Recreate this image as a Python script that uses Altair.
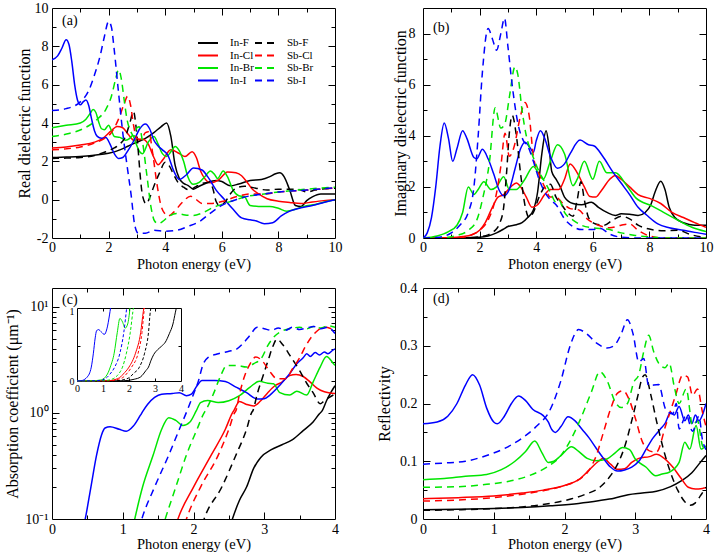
import altair as alt
import pandas as pd

FONT = "Liberation Serif"
SERIES = ["In-F", "In-Cl", "In-Br", "In-I", "Sb-F", "Sb-Cl", "Sb-Br", "Sb-I"]
COLORS = ["#000000", "#ff0000", "#00e600", "#0000ff", "#000000", "#ff0000", "#00e600", "#0000ff"]
DASH_MAIN = [[]] * 4 + [[7, 5]] * 4
DASH_INSET = [[]] * 4 + [[3, 2]] * 4

# ---------------- (a) real dielectric function ----------------
A_IN_F = [(0, 2.2), (0.5, 2.22), (1, 2.25), (1.5, 2.32), (2, 2.42), (2.4, 2.6), (2.7, 2.8), (3.0, 3.0), (3.3, 3.2),
          (3.6, 3.5), (3.85, 3.8), (4.05, 4.0), (4.2, 3.3), (4.35, 1.8), (4.5, 1.1), (4.65, 0.85), (4.8, 0.75),
          (5.0, 0.55), (5.2, 0.7), (5.5, 0.9), (5.8, 1.0), (6.0, 0.95), (6.3, 0.72), (6.6, 0.82), (7.0, 1.0),
          (7.4, 1.05), (7.7, 1.2), (7.9, 1.35), (8.05, 1.4), (8.2, 1.2), (8.4, 0.5), (8.6, -0.3), (8.8, -0.35),
          (9.0, -0.05), (9.2, 0.15), (9.5, 0.3), (10, 0.3)]
A_IN_CL = [(0, 2.7), (0.5, 2.75), (1, 2.85), (1.5, 3.0), (1.8, 3.2), (2.1, 3.6), (2.3, 3.82), (2.5, 3.75), (2.7, 3.4),
           (2.9, 3.1), (3.2, 3.15), (3.4, 2.9), (3.6, 2.2), (3.75, 1.82), (3.9, 2.05), (4.2, 2.6), (4.5, 2.4),
           (4.7, 2.25), (4.95, 2.5), (5.1, 2.2), (5.25, 1.5), (5.4, 1.1), (5.6, 0.88), (5.9, 1.05), (6.2, 1.45),
           (6.5, 1.4), (6.7, 1.25), (6.9, 0.9), (7.05, 0.6), (7.3, 0.3), (7.6, 0.05), (8.0, -0.08), (8.4, -0.15),
           (8.8, -0.2), (9.2, -0.12), (9.6, -0.05), (10, 0.0)]
A_IN_BR = [(0, 3.75), (0.5, 3.88), (1.0, 4.0), (1.2, 4.2), (1.35, 4.5), (1.45, 4.7), (1.55, 4.55), (1.65, 4.05),
           (1.75, 3.7), (1.85, 3.65), (2.0, 3.88), (2.1, 3.6), (2.2, 3.3), (2.4, 3.25), (2.6, 3.1), (2.75, 3.2),
           (2.85, 3.35), (2.95, 3.0), (3.1, 2.5), (3.2, 2.4), (3.4, 3.0), (3.6, 3.3), (3.75, 2.9), (3.9, 2.4),
           (4.05, 2.25), (4.2, 2.5), (4.35, 2.78), (4.5, 2.55), (4.65, 2.0), (4.8, 1.2), (5.0, 0.8), (5.2, 0.9),
           (5.4, 1.2), (5.6, 1.5), (5.75, 1.3), (5.85, 1.1), (6.05, 1.5), (6.2, 1.2), (6.4, 0.5), (6.6, 0.2),
           (6.8, 0.15), (7.0, -0.3), (7.3, -0.35), (7.7, -0.35), (8.0, -0.45), (8.3, -0.6), (8.6, -0.5),
           (8.9, -0.35), (9.3, -0.25), (9.7, -0.1), (10, 0.0)]
A_IN_I = [(0, 7.3), (0.2, 7.5), (0.35, 7.9), (0.5, 8.35), (0.6, 8.1), (0.7, 7.2), (0.8, 6.0), (0.9, 5.2), (1.0, 4.95),
          (1.1, 5.1), (1.2, 5.2), (1.3, 4.9), (1.4, 4.2), (1.5, 3.6), (1.6, 3.3), (1.75, 3.2), (1.9, 3.25),
          (2.05, 2.9), (2.2, 2.4), (2.35, 2.15), (2.5, 2.2), (2.7, 2.6), (2.9, 3.1), (3.1, 3.7), (3.3, 3.95),
          (3.45, 3.7), (3.6, 3.1), (3.75, 2.8), (3.9, 2.6), (4.1, 2.3), (4.3, 1.5), (4.5, 1.05), (4.75, 1.3),
          (5.0, 1.65), (5.3, 1.55), (5.5, 1.2), (5.8, 0.5), (6.1, 0.0), (6.4, -0.5), (6.7, -0.95), (7.0, -1.05),
          (7.2, -1.1), (7.5, -1.25), (7.8, -1.2), (8.1, -0.85), (8.4, -0.6), (8.8, -0.42), (9.2, -0.3),
          (9.6, -0.15), (10, 0.0)]
A_SB_F = [(0, 2.15), (0.5, 2.17), (1.0, 2.2), (1.5, 2.3), (1.9, 2.5), (2.2, 2.7), (2.4, 2.9), (2.6, 3.3), (2.75, 4.0),
          (2.88, 4.6), (2.97, 3.8), (3.05, 2.5), (3.12, 1.2), (3.2, 0.2), (3.33, -0.22), (3.45, 0.1), (3.6, 0.7),
          (3.8, 1.4), (4.0, 1.95), (4.15, 1.75), (4.3, 1.3), (4.45, 0.9), (4.65, 0.65), (4.85, 0.5), (5.05, 0.65),
          (5.3, 0.85), (5.55, 0.9), (5.68, 0.6), (5.8, -0.1), (5.9, -0.28), (6.1, -0.15), (6.3, 0.3), (6.5, 0.6),
          (6.8, 0.7), (7.2, 0.6), (7.6, 0.5), (8.0, 0.55), (8.5, 0.55), (8.8, 0.5), (9.0, 0.4), (9.3, 0.5),
          (10, 0.6)]
A_SB_CL = [(0, 2.6), (0.5, 2.65), (1.0, 2.75), (1.5, 2.95), (1.8, 3.15), (2.1, 3.5), (2.35, 4.2), (2.55, 5.0),
           (2.67, 5.4), (2.78, 4.9), (2.88, 3.9), (3.0, 3.2), (3.15, 3.15), (3.3, 3.5), (3.42, 3.55), (3.55, 2.5),
           (3.7, 0.9), (3.85, -0.3), (4.0, -0.75), (4.1, -0.85), (4.3, -0.65), (4.6, -0.15), (4.9, 0.18),
           (5.1, 0.0), (5.3, -0.2), (5.6, -0.2), (6.0, -0.1), (6.5, 0.15), (7.0, 0.3), (7.5, 0.3), (8.0, 0.4),
           (9.0, 0.5), (10, 0.6)]
A_SB_BR = [(0, 3.3), (0.6, 3.45), (1.1, 3.7), (1.6, 4.2), (1.9, 4.7), (2.1, 5.4), (2.25, 6.3), (2.35, 6.78),
           (2.45, 6.3), (2.55, 5.2), (2.65, 4.2), (2.8, 3.5), (2.9, 3.3), (3.0, 3.75), (3.08, 3.8), (3.2, 3.0),
           (3.35, 1.3), (3.5, -0.4), (3.62, -1.1), (3.75, -1.25), (3.9, -1.15), (4.1, -0.9), (4.4, -0.72),
           (4.7, -0.8), (5.0, -0.82), (5.3, -0.7), (5.7, -0.4), (6.0, -0.25), (6.5, 0.0), (7.0, 0.2), (7.5, 0.3),
           (8.0, 0.4), (9.0, 0.55), (10, 0.65)]
A_SB_I = [(0, 4.65), (0.5, 4.75), (1.0, 5.1), (1.3, 5.7), (1.5, 6.5), (1.7, 7.5), (1.85, 8.5), (2.0, 9.3), (2.1, 9.0),
          (2.2, 7.8), (2.35, 5.6), (2.5, 3.5), (2.65, 1.8), (2.8, 0.2), (2.92, -1.3), (3.05, -1.75), (3.3, -1.75),
          (3.6, -1.6), (4.0, -1.65), (4.4, -1.6), (4.8, -1.4), (5.2, -1.15), (5.6, -0.7), (6.0, -0.3), (6.5, 0.0),
          (7.0, 0.2), (7.5, 0.3), (8.0, 0.4), (9.0, 0.5), (10, 0.62)]

# ---------------- (b) imaginary dielectric function ----------------
B_IN_F = [(0, 0), (1, 0.0), (2.0, 0.03), (2.3, 0.08), (2.6, 0.2), (2.85, 0.35), (3.0, 0.45), (3.3, 0.52), (3.5, 0.6),
          (3.7, 0.8), (3.9, 1.1), (4.05, 1.8), (4.2, 3.3), (4.35, 4.2), (4.45, 3.6), (4.55, 2.6), (4.7, 2.3),
          (4.85, 2.0), (5.0, 1.6), (5.3, 1.35), (5.6, 1.3), (5.95, 1.4), (6.2, 1.2), (6.5, 1.0), (6.8, 0.88),
          (7.0, 0.95), (7.3, 0.93), (7.6, 0.88), (7.85, 1.0), (8.05, 1.3), (8.2, 1.8), (8.4, 2.22), (8.55, 1.9),
          (8.7, 1.2), (8.9, 0.8), (9.2, 0.6), (9.6, 0.5), (10, 0.5)]
B_IN_CL = [(0, 0), (1.0, 0.02), (1.4, 0.06), (1.7, 0.12), (2.0, 0.3), (2.2, 0.6), (2.45, 1.2), (2.65, 1.6), (2.85, 1.7),
           (3.1, 2.0), (3.3, 2.15), (3.45, 2.0), (3.65, 1.6), (3.85, 1.2), (4.05, 1.3), (4.3, 1.7), (4.5, 1.9),
           (4.8, 1.9), (5.0, 2.3), (5.2, 2.9), (5.45, 2.55), (5.7, 2.0), (5.9, 1.62), (6.1, 1.6), (6.3, 1.85),
           (6.6, 2.3), (6.8, 2.45), (7.0, 2.3), (7.3, 2.0), (7.6, 1.7), (8.0, 1.55), (8.4, 1.35), (8.8, 1.0),
           (9.2, 0.8), (9.6, 0.6), (10, 0.42)]
B_IN_BR = [(0, 0), (0.5, 0.08), (0.9, 0.25), (1.2, 0.5), (1.4, 1.0), (1.6, 2.0), (1.8, 1.7), (1.95, 1.9), (2.15, 2.2),
           (2.4, 1.9), (2.6, 2.0), (2.85, 2.4), (3.05, 1.9), (3.3, 1.9), (3.6, 2.3), (3.9, 2.8), (4.1, 2.5),
           (4.25, 2.3), (4.5, 3.0), (4.75, 3.65), (5.0, 3.3), (5.3, 2.05), (5.45, 2.3), (5.7, 3.0), (6.0, 2.3),
           (6.23, 3.0), (6.5, 2.55), (6.8, 2.55), (7.2, 2.05), (7.52, 1.57), (8.1, 1.25), (8.5, 1.0), (9.0, 0.7),
           (9.5, 0.42), (10, 0.25)]
B_IN_I = [(0, 0), (0.15, 0.2), (0.3, 0.8), (0.45, 2.0), (0.6, 3.6), (0.75, 4.5), (0.9, 3.9), (1.05, 3.0), (1.2, 3.5),
          (1.4, 4.2), (1.55, 3.9), (1.8, 3.15), (1.9, 3.1), (2.1, 3.47), (2.3, 3.1), (2.5, 2.5), (2.7, 1.85),
          (2.85, 1.65), (3.05, 1.9), (3.25, 2.7), (3.45, 3.5), (3.6, 3.75), (3.8, 3.5), (3.9, 3.35), (4.0, 3.8),
          (4.15, 4.2), (4.3, 3.9), (4.5, 3.2), (4.75, 2.73), (5.0, 2.9), (5.2, 3.3), (5.55, 3.83), (5.85, 3.65),
          (6.05, 3.6), (6.35, 3.2), (6.7, 2.6), (7.0, 2.15), (7.3, 1.7), (7.6, 1.2), (7.9, 0.9), (8.3, 0.55),
          (8.7, 0.4), (9.2, 0.3), (9.6, 0.22), (10, 0.15)]
B_SB_F = [(0, 0), (1.5, 0.0), (2.0, 0.05), (2.3, 0.12), (2.5, 0.25), (2.7, 0.55), (2.85, 1.2), (2.95, 2.5), (3.05, 4.1),
          (3.15, 4.8), (3.3, 4.0), (3.45, 2.5), (3.6, 1.3), (3.75, 0.8), (3.9, 1.0), (4.1, 1.6), (4.3, 2.0),
          (4.5, 2.1), (4.7, 1.6), (4.9, 1.3), (5.1, 1.0), (5.3, 0.85), (5.45, 1.5), (5.58, 2.2), (5.7, 1.5),
          (5.85, 0.8), (6.1, 0.55), (6.4, 0.5), (6.7, 0.7), (7.0, 0.85), (7.3, 0.75), (7.6, 0.5), (8.0, 0.35),
          (8.5, 0.28), (9.0, 0.3), (9.5, 0.12), (10, 0.02)]
B_SB_CL = [(0, 0), (1.2, 0.0), (1.6, 0.08), (2.0, 0.3), (2.3, 0.7), (2.55, 1.5), (2.75, 2.8), (2.9, 4.1), (3.05, 3.2),
           (3.2, 3.5), (3.45, 4.8), (3.6, 5.3), (3.75, 4.8), (3.9, 3.2), (4.1, 2.5), (4.3, 2.0), (4.5, 1.6),
           (4.7, 1.6), (4.9, 1.4), (5.2, 1.15), (5.5, 1.1), (5.8, 0.75), (6.2, 0.5), (6.6, 0.4), (7.0, 0.5),
           (7.3, 0.55), (7.6, 0.3), (8.0, 0.08), (8.5, 0.0), (10, 0.0)]
B_SB_BR = [(0, 0), (0.8, 0.02), (1.2, 0.1), (1.6, 0.3), (1.9, 0.7), (2.1, 1.5), (2.35, 3.0), (2.55, 5.1), (2.75, 4.3),
           (2.9, 4.5), (3.05, 5.5), (3.25, 6.7), (3.35, 6.4), (3.5, 5.0), (3.65, 4.0), (3.85, 3.3), (4.1, 2.6),
           (4.3, 2.2), (4.5, 1.8), (4.7, 1.4), (4.8, 1.5), (5.0, 1.0), (5.3, 0.7), (5.6, 0.5), (6.0, 0.4),
           (6.5, 0.35), (7.0, 0.2), (7.5, 0.1), (8.0, 0.04), (8.5, 0.0), (10, 0.0)]
B_SB_I = [(0, 0), (0.5, 0.02), (1.0, 0.2), (1.3, 0.5), (1.6, 1.0), (1.8, 2.0), (1.95, 4.0), (2.1, 6.5), (2.3, 8.2),
          (2.45, 7.8), (2.6, 7.35), (2.75, 8.0), (2.88, 8.6), (3.0, 7.5), (3.15, 6.0), (3.35, 4.5), (3.55, 3.8),
          (3.7, 3.6), (3.9, 3.0), (4.1, 2.3), (4.3, 1.8), (4.5, 1.5), (4.7, 1.3), (5.0, 0.75), (5.3, 0.45),
          (5.6, 0.33), (6.0, 0.33), (6.25, 0.38), (6.6, 0.15), (7.0, 0.03), (7.5, 0.0), (10, 0.0)]

# ---------------- (c) absorption coefficient (1/um) ----------------
C_IN_F = [(0, 0.001), (1.8, 0.004), (2.2, 0.025), (2.45, 0.06), (2.55, 0.1), (2.65, 0.15), (2.75, 0.2), (2.85, 0.3),
          (2.95, 0.38), (3.1, 0.45), (3.25, 0.5), (3.4, 0.56), (3.55, 0.68), (3.69, 0.82), (3.78, 0.98),
          (3.82, 1.05), (3.88, 1.3), (3.94, 1.55), (4.0, 1.8)]
C_IN_CL = [(0, 0.001), (1.2, 0.004), (1.5, 0.025), (1.68, 0.06), (1.78, 0.1), (2.0, 0.2), (2.25, 0.4), (2.45, 0.7),
           (2.55, 1.0), (2.57, 1.05), (2.65, 1.28), (2.75, 1.2), (2.85, 1.16), (2.95, 1.3), (3.05, 1.55),
           (3.15, 1.8), (3.25, 1.95), (3.36, 2.25), (3.45, 2.3), (3.55, 2.2), (3.65, 1.95), (3.75, 1.7),
           (3.85, 1.58), (4.0, 1.52)]
C_IN_BR = [(0, 0.001), (0.6, 0.003), (0.9, 0.015), (1.05, 0.04), (1.12, 0.07), (1.17, 0.1), (1.28, 0.2), (1.43, 0.4),
           (1.55, 0.7), (1.65, 0.9), (1.75, 0.85), (1.85, 0.76), (1.95, 0.82), (2.04, 1.05), (2.1, 1.25),
           (2.2, 1.31), (2.35, 1.25), (2.5, 1.3), (2.65, 1.45), (2.8, 1.75), (2.93, 1.98), (3.05, 1.9),
           (3.13, 1.88), (3.22, 1.55), (3.36, 1.47), (3.46, 1.6), (3.6, 1.47), (3.69, 1.95), (3.79, 2.7),
           (3.88, 3.4), (3.98, 2.9), (4.0, 2.8)]
C_IN_I = [(0, 0.001), (0.15, 0.003), (0.25, 0.015), (0.35, 0.04), (0.42, 0.07), (0.47, 0.1), (0.55, 0.2), (0.63, 0.4),
          (0.7, 0.62), (0.75, 0.72), (0.82, 0.74), (0.95, 0.7), (1.05, 0.67), (1.15, 0.75), (1.25, 0.95),
          (1.29, 1.05), (1.35, 1.2), (1.45, 1.4), (1.55, 1.5), (1.7, 1.52), (1.8, 1.55), (1.9, 1.45), (1.97, 1.5),
          (2.05, 1.8), (2.12, 2.02), (2.3, 2.02), (2.45, 1.97), (2.6, 1.75), (2.75, 1.55), (2.9, 1.35),
          (3.0, 1.36), (3.08, 1.47), (3.22, 1.82), (3.36, 2.34), (3.46, 2.9), (3.55, 3.3), (3.6, 3.6), (3.65, 3.4),
          (3.72, 3.7), (3.78, 3.5), (3.85, 3.75), (3.9, 3.6), (3.97, 3.9), (4.0, 4.0)]
C_SB_F = [(0, 0.001), (1.5, 0.004), (1.85, 0.025), (2.05, 0.06), (2.15, 0.1), (2.4, 0.2), (2.6, 0.4), (2.75, 0.7),
          (2.82, 1.0), (2.84, 1.05), (2.9, 1.5), (2.98, 2.2), (3.06, 3.2), (3.12, 4.2), (3.18, 4.95), (3.26, 4.4),
          (3.36, 3.5), (3.5, 2.5), (3.6, 1.9), (3.69, 1.55), (3.79, 1.22), (3.85, 1.3), (3.92, 1.4), (4.0, 1.5)]
C_SB_CL = [(0, 0.001), (1.3, 0.004), (1.6, 0.025), (1.8, 0.06), (1.9, 0.1), (2.1, 0.2), (2.35, 0.4), (2.5, 0.7),
           (2.58, 1.0), (2.6, 1.05), (2.65, 1.5), (2.72, 2.2), (2.8, 2.9), (2.88, 3.35), (2.97, 3.1), (3.07, 2.5),
           (3.18, 2.1), (3.3, 2.1), (3.4, 2.6), (3.5, 3.3), (3.58, 4.2), (3.67, 5.2), (3.76, 6.0), (3.85, 6.4),
           (3.95, 6.2), (4.0, 6.0)]
C_SB_BR = [(0, 0.001), (1.0, 0.004), (1.3, 0.02), (1.5, 0.06), (1.6, 0.1), (1.75, 0.2), (1.9, 0.4), (2.05, 0.7),
           (2.15, 1.0), (2.17, 1.05), (2.28, 1.5), (2.38, 2.2), (2.47, 2.8), (2.6, 2.8), (2.75, 2.7), (2.85, 2.9),
           (2.97, 3.35), (3.05, 4.3), (3.15, 5.3), (3.25, 5.9), (3.36, 6.2), (3.5, 6.4), (3.6, 6.2), (3.7, 6.5),
           (3.8, 6.3), (3.9, 6.6), (4.0, 6.4)]
C_SB_I = [(0, 0.001), (0.7, 0.003), (1.0, 0.015), (1.15, 0.05), (1.27, 0.1), (1.45, 0.2), (1.65, 0.4), (1.8, 0.7),
          (1.91, 1.05), (2.0, 1.5), (2.07, 2.0), (2.13, 2.8), (2.2, 3.3), (2.35, 3.6), (2.5, 3.8), (2.6, 3.95),
          (2.7, 4.5), (2.8, 5.4), (2.9, 6.4), (3.0, 6.2), (3.1, 6.0), (3.2, 6.3), (3.3, 6.0), (3.4, 6.4), (3.5, 6.1),
          (3.6, 6.3), (3.7, 6.5), (3.8, 6.2), (3.9, 6.4), (4.0, 5.6)]

# ---------------- (d) reflectivity ----------------
D_IN_F = [(0, 0.016), (0.5, 0.017), (1.0, 0.018), (1.4, 0.02), (1.8, 0.023), (2.2, 0.027), (2.5, 0.032), (2.7, 0.036),
          (2.9, 0.042), (3.1, 0.045), (3.3, 0.048), (3.5, 0.056), (3.65, 0.066), (3.8, 0.08), (3.9, 0.095),
          (4.0, 0.11)]
D_IN_CL = [(0, 0.035), (0.5, 0.037), (1.0, 0.04), (1.4, 0.045), (1.7, 0.05), (2.0, 0.058), (2.2, 0.068), (2.35, 0.085),
           (2.48, 0.1), (2.55, 0.105), (2.65, 0.095), (2.75, 0.086), (2.85, 0.087), (2.95, 0.098), (3.05, 0.105),
           (3.2, 0.108), (3.3, 0.112), (3.4, 0.106), (3.53, 0.09), (3.65, 0.07), (3.75, 0.055), (3.85, 0.052),
           (3.95, 0.053), (4.0, 0.054)]
D_IN_BR = [(0, 0.068), (0.3, 0.07), (0.6, 0.074), (0.9, 0.077), (1.1, 0.085), (1.3, 0.1), (1.45, 0.117), (1.58, 0.135),
           (1.68, 0.115), (1.77, 0.098), (1.85, 0.1), (1.95, 0.11), (2.1, 0.125), (2.2, 0.117), (2.32, 0.105),
           (2.45, 0.101), (2.6, 0.104), (2.72, 0.115), (2.82, 0.124), (2.92, 0.12), (3.0, 0.104), (3.15, 0.09),
           (3.29, 0.075), (3.38, 0.078), (3.48, 0.081), (3.62, 0.098), (3.7, 0.133), (3.77, 0.121), (3.86, 0.162),
           (3.93, 0.121), (4.0, 0.127)]
D_IN_I = [(0, 0.165), (0.2, 0.168), (0.35, 0.178), (0.48, 0.2), (0.6, 0.232), (0.7, 0.25), (0.8, 0.232), (0.9, 0.192),
          (1.0, 0.168), (1.05, 0.165), (1.15, 0.178), (1.25, 0.2), (1.35, 0.213), (1.45, 0.205), (1.55, 0.19),
          (1.7, 0.179), (1.77, 0.168), (1.82, 0.155), (1.87, 0.15), (1.95, 0.16), (2.05, 0.177), (2.15, 0.17),
          (2.25, 0.155), (2.35, 0.14), (2.45, 0.122), (2.55, 0.105), (2.65, 0.09), (2.75, 0.083), (2.85, 0.085),
          (2.95, 0.09), (3.05, 0.1), (3.15, 0.12), (3.25, 0.14), (3.35, 0.155), (3.42, 0.165), (3.5, 0.185),
          (3.55, 0.18), (3.62, 0.195), (3.7, 0.17), (3.75, 0.18), (3.8, 0.165), (3.85, 0.18), (3.9, 0.17),
          (3.95, 0.18), (4.0, 0.2)]
D_SB_F = [(0, 0.015), (0.5, 0.016), (1.0, 0.018), (1.4, 0.021), (1.8, 0.027), (2.1, 0.035), (2.3, 0.043), (2.5, 0.055),
          (2.65, 0.075), (2.75, 0.095), (2.85, 0.125), (2.95, 0.17), (3.03, 0.21), (3.1, 0.245), (3.14, 0.25),
          (3.22, 0.215), (3.3, 0.17), (3.4, 0.12), (3.5, 0.08), (3.6, 0.05), (3.7, 0.03), (3.78, 0.024),
          (3.85, 0.028), (3.92, 0.04), (4.0, 0.055)]
D_SB_CL = [(0, 0.031), (0.5, 0.033), (1.0, 0.037), (1.4, 0.043), (1.7, 0.049), (2.0, 0.058), (2.2, 0.068),
           (2.35, 0.085), (2.45, 0.11), (2.55, 0.15), (2.65, 0.19), (2.75, 0.218), (2.83, 0.222), (2.92, 0.205),
           (3.0, 0.175), (3.1, 0.134), (3.2, 0.118), (3.3, 0.116), (3.43, 0.162), (3.57, 0.214), (3.67, 0.249),
           (3.74, 0.246), (3.81, 0.214), (3.88, 0.225), (3.95, 0.185), (4.0, 0.16)]
D_SB_BR = [(0, 0.055), (0.5, 0.056), (0.9, 0.06), (1.2, 0.065), (1.5, 0.075), (1.75, 0.09), (1.95, 0.11), (2.1, 0.14),
           (2.25, 0.18), (2.38, 0.22), (2.5, 0.255), (2.6, 0.24), (2.72, 0.202), (2.8, 0.193), (2.89, 0.2),
           (2.98, 0.237), (3.05, 0.25), (3.12, 0.29), (3.19, 0.318), (3.26, 0.29), (3.33, 0.27), (3.42, 0.262),
           (3.48, 0.27), (3.55, 0.23), (3.62, 0.2), (3.72, 0.225), (3.81, 0.162), (3.88, 0.17), (3.95, 0.127),
           (4.0, 0.12)]
D_SB_I = [(0, 0.095), (0.3, 0.097), (0.6, 0.1), (0.9, 0.11), (1.2, 0.125), (1.4, 0.14), (1.6, 0.16), (1.8, 0.19),
          (1.95, 0.24), (2.08, 0.3), (2.2, 0.328), (2.3, 0.322), (2.45, 0.305), (2.6, 0.296), (2.7, 0.3),
          (2.8, 0.32), (2.89, 0.345), (2.97, 0.32), (3.05, 0.272), (3.12, 0.278), (3.19, 0.231), (3.33, 0.233),
          (3.43, 0.19), (3.53, 0.182), (3.58, 0.2), (3.62, 0.156), (3.72, 0.18), (3.81, 0.152), (3.9, 0.178),
          (3.95, 0.137), (4.0, 0.12)]

# tick values / labels
X10_LAB = [0, 2, 4, 6, 8, 10]
X10_MAJ = [2, 4, 6, 8]
X10_MIN = [1, 3, 5, 7, 9]
X4_LAB = [0, 1, 2, 3, 4]
X4_MAJ = [1, 2, 3]
X4_MIN = [0.5, 1.5, 2.5, 3.5]


def frame(mapping):
    rows = []
    for name, pts in mapping.items():
        for e, v in pts:
            rows.append({"E": e, "v": v, "s": name})
    return pd.DataFrame(rows)


df_a = frame({"In-F": A_IN_F, "In-Cl": A_IN_CL, "In-Br": A_IN_BR, "In-I": A_IN_I,
              "Sb-F": A_SB_F, "Sb-Cl": A_SB_CL, "Sb-Br": A_SB_BR, "Sb-I": A_SB_I})
df_b = frame({"In-F": B_IN_F, "In-Cl": B_IN_CL, "In-Br": B_IN_BR, "In-I": B_IN_I,
              "Sb-F": B_SB_F, "Sb-Cl": B_SB_CL, "Sb-Br": B_SB_BR, "Sb-I": B_SB_I})
df_c = frame({"In-F": C_IN_F, "In-Cl": C_IN_CL, "In-Br": C_IN_BR, "In-I": C_IN_I,
              "Sb-F": C_SB_F, "Sb-Cl": C_SB_CL, "Sb-Br": C_SB_BR, "Sb-I": C_SB_I})
df_d = frame({"In-F": D_IN_F, "In-Cl": D_IN_CL, "In-Br": D_IN_BR, "In-I": D_IN_I,
              "Sb-F": D_SB_F, "Sb-Cl": D_SB_CL, "Sb-Br": D_SB_BR, "Sb-I": D_SB_I})

W = 283
TXT = dict(labelFont=FONT, titleFont=FONT, labelColor="black", titleColor="black", titleFontWeight="normal",
           labelFontWeight="normal")


def tick_axis(orient, offset, values, size):
    return alt.Axis(orient=orient, offset=offset, values=values, tickSize=size, ticks=True, labels=False,
                    domain=False, grid=False, title=None, tickColor="black", tickWidth=1)


def panel(df, H, xdom, ydom, xlab, ylab, xmaj, xmin, ymaj, ymin, xtitle, ytitle, tag,
          ylog=False, ylabel_expr="toString(datum.value)", lp_x=2, tp_x=2, lp_y=4, tp_y=6,
          legend=None, extra=None, tag_offset=-27):
    def sx():
        return alt.Scale(domain=xdom, nice=False, zero=False)

    def sy():
        if ylog:
            return alt.Scale(type="log", domain=ydom, nice=False)
        return alt.Scale(domain=ydom, nice=False, zero=False)

    main = alt.Chart(df).mark_line(clip=True, strokeWidth=1.5, interpolate="monotone").encode(
        x=alt.X("E:Q", scale=sx(), axis=alt.Axis(orient="bottom", values=xlab, ticks=False, domain=False,
                                                  grid=False, title=xtitle, labelPadding=lp_x, titlePadding=tp_x,
                                                  labelFontSize=14, titleFontSize=14.5, labelFlush=False,
                                                  labelExpr="toString(datum.value)", **TXT)),
        y=alt.Y("v:Q", scale=sy(), axis=alt.Axis(orient="left", values=ylab, ticks=False, domain=False,
                                                  grid=False, title=ytitle, labelPadding=lp_y, titlePadding=tp_y,
                                                  labelFontSize=14, titleFontSize=16, labelExpr=ylabel_expr,
                                                  labelFlush=False, **TXT)),
        color=alt.Color("s:N", scale=alt.Scale(domain=SERIES, range=COLORS), legend=legend),
        strokeDash=alt.StrokeDash("s:N", scale=alt.Scale(domain=SERIES, range=DASH_MAIN), legend=legend),
    )
    layers = [main]
    anchor = df.iloc[:2]
    for xo, yo in [("top", "right"), ("bottom", "left")]:
        for xv, yv, size in [(xmaj, ymaj, 7), (xmin, ymin, 4)]:
            layers.append(alt.Chart(anchor).mark_point(opacity=0).encode(
                x=alt.X("E:Q", scale=sx(), axis=tick_axis(xo, -H, xv, size)),
                y=alt.Y("v:Q", scale=sy(), axis=tick_axis(yo, -W, yv, size)),
            ))
    if extra:
        layers.extend(extra)
        combined = alt.layer(*layers).resolve_scale(x="independent", y="independent", strokeDash="independent")
    else:
        combined = alt.layer(*layers).resolve_scale(x="independent", y="independent")
    return combined.resolve_axis(x="independent", y="independent").properties(
        width=W, height=H,
        title=alt.TitleParams(tag, anchor="start", frame="group", offset=tag_offset, dx=10, fontSize=14,
                              font=FONT, fontWeight="normal", color="black"),
    )


legend_a = alt.Legend(title=None, orient="none", legendX=145, legendY=29, columns=2, symbolType="stroke",
                      symbolSize=400, symbolStrokeWidth=1.8, labelFont=FONT, labelFontSize=11, labelOffset=11,
                      columnPadding=0, rowPadding=0.5, clipHeight=12, padding=0, labelColor="black")

pa = panel(df_a, 230, [0, 10], [-2, 10], X10_LAB, [-2, 0, 2, 4, 6, 8, 10], X10_MAJ, X10_MIN,
           [0, 2, 4, 6, 8], [-1, 1, 3, 5, 7, 9], "Photon energy (eV)", "Real dielectric function", "(a)",
           lp_x=2, tp_x=3, lp_y=4, tp_y=2, legend=legend_a)

pb = panel(df_b, 230, [0, 10], [0, 9], X10_LAB, [0, 2, 4, 6, 8], X10_MAJ, X10_MIN,
           [2, 4, 6, 8], [1, 3, 5, 7], "Photon energy (eV)", "Imaginary dielectric function", "(b)",
           lp_x=2, tp_x=3, lp_y=8, tp_y=0)

# inset of (c): same absorption data on a linear axis, drawn in its own small frame
H_C = 231
INSET_X = [25, 129]
INSET_Y = [93, 20]
INSET_TOP = 1.05
df_c_inset = df_c[df_c["v"] <= INSET_TOP]


def isx():
    return alt.Scale(domain=[0, 4], range=INSET_X, nice=False, zero=False)


def isy():
    return alt.Scale(domain=[0, INSET_TOP], range=INSET_Y, nice=False, zero=False)


inset_lines = alt.Chart(df_c_inset).mark_line(strokeWidth=1, interpolate="monotone").encode(
    x=alt.X("E:Q", scale=isx(), axis=alt.Axis(orient="bottom", offset=INSET_Y[0] - H_C, values=X4_LAB,
                                               ticks=False, domain=True, domainColor="black", domainWidth=1,
                                               grid=False, title=None, labelFontSize=10, labelPadding=2,
                                               labelFlush=False, labelExpr="toString(datum.value)", **TXT)),
    y=alt.Y("v:Q", scale=isy(), axis=alt.Axis(orient="left", offset=-INSET_X[0], values=[0, 1], ticks=False,
                                               domain=True, domainColor="black", domainWidth=1, grid=False,
                                               title=None, labelFontSize=10, labelPadding=3, labelFlush=False,
                                               labelExpr="toString(datum.value)", **TXT)),
    color=alt.Color("s:N", scale=alt.Scale(domain=SERIES, range=COLORS), legend=None),
    strokeDash=alt.StrokeDash("s:N", scale=alt.Scale(domain=SERIES, range=DASH_INSET), legend=None),
)
inset_anchor = df_c_inset.iloc[:2]
inset_ticks_in = alt.Chart(inset_anchor).mark_point(opacity=0).encode(
    x=alt.X("E:Q", scale=isx(), axis=alt.Axis(orient="top", offset=-INSET_Y[0], values=X4_MAJ, tickSize=3,
                                               labels=False, domain=False, grid=False, title=None,
                                               tickColor="black")),
    y=alt.Y("v:Q", scale=isy(), axis=alt.Axis(orient="right", offset=INSET_X[0] - W, values=[0.5], tickSize=3,
                                               labels=False, domain=False, grid=False, title=None,
                                               tickColor="black")),
)
inset_frame = alt.Chart(inset_anchor).mark_point(opacity=0).encode(
    x=alt.X("E:Q", scale=isx(), axis=alt.Axis(orient="bottom", offset=INSET_Y[1] - H_C, values=X4_MAJ,
                                               tickSize=3, labels=False, domain=True, domainColor="black",
                                               grid=False, title=None, tickColor="black")),
    y=alt.Y("v:Q", scale=isy(), axis=alt.Axis(orient="left", offset=-INSET_X[1], values=[0.5], tickSize=3,
                                               labels=False, domain=True, domainColor="black", grid=False,
                                               title=None, tickColor="black")),
)

LOG_EXPR = "datum.value >= 5 ? '10\u00b9' : datum.value >= 0.5 ? '10\u2070' : '10\u207b\u00b9'"
pc = panel(df_c, H_C, [0, 4], [0.1, 15], X4_LAB, [0.1, 1, 10], X4_MAJ, X4_MIN,
           [1, 10], [0.2, 0.3, 0.4, 0.5, 0.6, 0.7, 0.8, 0.9, 2, 3, 4, 5, 6, 7, 8, 9],
           "Photon energy (eV)", "Absorption coefficient (\u03bcm\u207b\u00b9)", "(c)",
           ylog=True, ylabel_expr=LOG_EXPR, lp_x=3, tp_x=1, lp_y=4, tp_y=4,
           extra=[inset_lines, inset_ticks_in, inset_frame], tag_offset=-19)

pd_ = panel(df_d, H_C, [0, 4], [0, 0.4], X4_LAB, [0, 0.1, 0.2, 0.3, 0.4], X4_MAJ, X4_MIN,
            [0.1, 0.2, 0.3], [0.05, 0.15, 0.25, 0.35], "Photon energy (eV)", "Reflectivity", "(d)",
            lp_x=3, tp_x=1, lp_y=6, tp_y=7, tag_offset=-25)

chart = alt.concat(pa, pb, pc, pd_, columns=2, spacing={"row": 50, "column": 88}, bounds="flush").resolve_scale(
    color="independent", strokeDash="independent"
).properties(
    padding={"left": 4, "top": 0, "right": 0, "bottom": 0}
).configure_view(
    stroke="black", strokeWidth=1
).configure_axis(
    labelFont=FONT, titleFont=FONT, labelColor="black", titleColor="black", titleFontWeight="normal"
)

chart.save("out.html", embed_options={"renderer": "svg", "actions": False})
